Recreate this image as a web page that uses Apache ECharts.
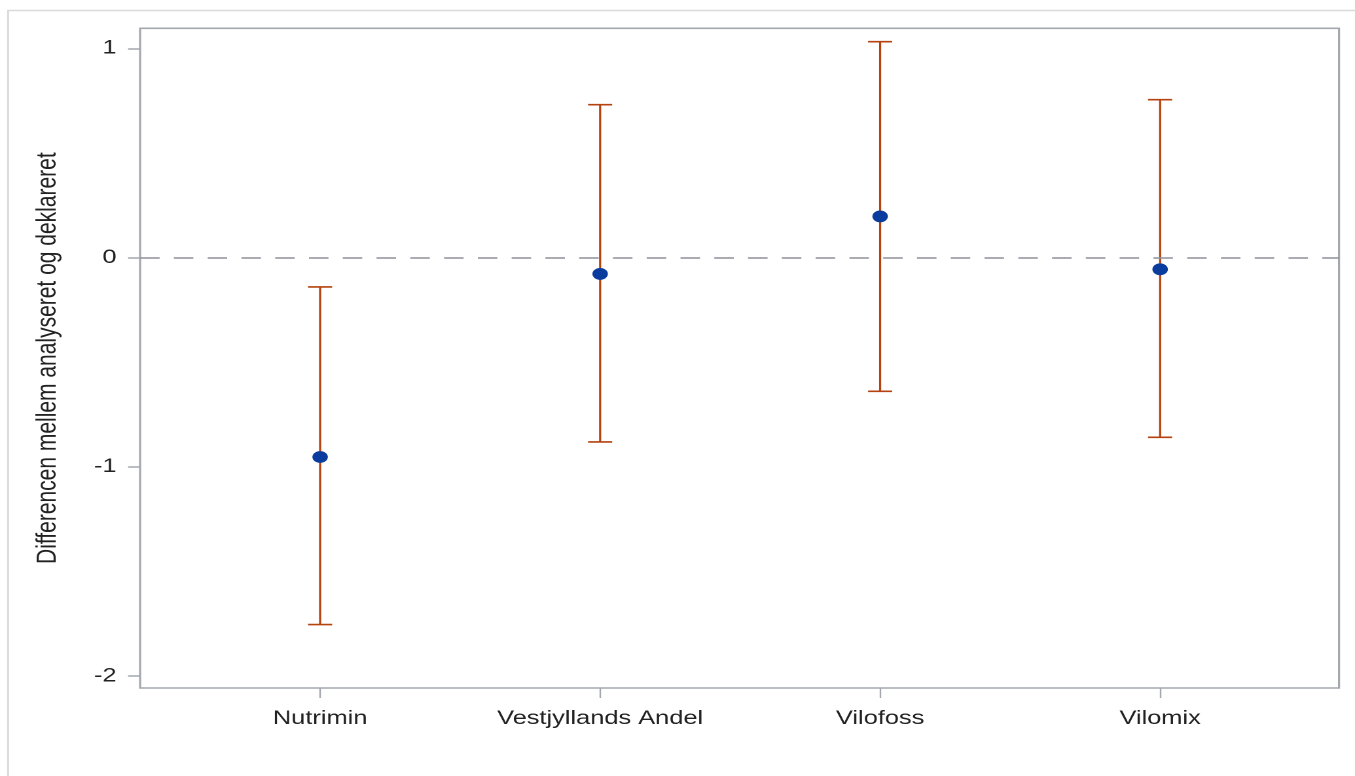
<!DOCTYPE html>
<html>
<head>
<meta charset="utf-8">
<script src="https://cdn.jsdelivr.net/npm/echarts@6/dist/echarts.min.js"></script>
<style>
  html, body { margin: 0; padding: 0; background: #ffffff; overflow: hidden; }
  #wrap { width: 1355px; height: 776px; overflow: hidden; position: relative; }
  #chart { width: 1035px; height: 776px; transform: scaleX(1.30918); transform-origin: 0 0; }
</style>
</head>
<body>
<div id="wrap"><div id="chart"></div></div>
<script>
// ---- data ----
const categories = ['Nutrimin', 'Vestjyllands Andel', 'Vilofoss', 'Vilomix'];
const means = [-0.953, -0.078, 0.197, -0.056];
const lower = [-1.754, -0.881, -0.639, -0.859];
const upper = [-0.140, 0.731, 1.032, 0.755];
const yTicks = [-2, -1, 0, 1];
const yTitle = 'Differencen mellem analyseret og deklareret';

const catIdx = categories.map((c, i) => i);
const pointData = catIdx.map(i => [i, means[i]]);
const barData = catIdx.map(i => [i, lower[i], upper[i]]);

const chart = echarts.init(document.getElementById('chart'), null, { devicePixelRatio: 2, renderer: 'canvas' });
const FONT = '"Liberation Sans", Arial, sans-serif';
const AXIS_GRAY = '#a4a8ae';
const BAR_COLOR = '#b5420f';
const DOT_COLOR = '#0a3c9e';

const option = {
  animation: false,
  backgroundColor: '#ffffff',
  graphic: [{
    type: 'rect',
    shape: { x: 6.2, y: 10.5, width: 3000, height: 3000 },
    style: { fill: 'none', stroke: '#dadada', lineWidth: 1.5 },
    silent: true,
    z: 0
  }],
  grid: {
    left: 107, right: 12.2, top: 28.3, bottom: 88,
    show: true, borderColor: AXIS_GRAY, borderWidth: 1.6, backgroundColor: 'transparent'
  },
  xAxis: {
    type: 'value',
    min: -0.643,
    max: 3.639,
    position: 'bottom',
    axisLine: { show: false, onZero: false },
    splitLine: { show: false },
    axisTick: { show: true, customValues: catIdx, length: 10, lineStyle: { color: AXIS_GRAY, width: 1.2 } },
    axisLabel: {
      customValues: catIdx,
      formatter: v => categories[Math.round(v)] || '',
      color: '#222222', fontFamily: FONT, fontSize: 19.4, margin: 21
    }
  },
  yAxis: {
    type: 'value',
    min: -2.057,
    max: 1.096,
    position: 'left',
    name: yTitle,
    nameLocation: 'middle',
    nameGap: 60,
    nameRotate: 90,
    nameTextStyle: { color: '#222222', fontFamily: FONT, fontSize: 21 },
    axisLine: { show: false, onZero: false },
    splitLine: { show: false },
    axisTick: { show: true, customValues: yTicks, length: 9.2, lineStyle: { color: AXIS_GRAY, width: 1.5 } },
    axisLabel: {
      customValues: yTicks,
      color: '#222222', fontFamily: FONT, fontSize: 19.4, margin: 18,
      padding: [4, 0, 0, 0]
    }
  },
  series: [
    {
      type: 'custom',
      data: barData,
      z: 2,
      silent: true,
      markLine: {
        silent: true,
        symbol: 'none',
        label: { show: false },
        lineStyle: { color: '#8f909c', type: [14.9, 10.9], width: 1.6 },
        data: [{ yAxis: 0 }]
      },
      renderItem: function (params, api) {
        const x = api.value(0);
        const lo = api.coord([x, api.value(1)]);
        const hi = api.coord([x, api.value(2)]);
        const hw = 9.2;
        const style = { stroke: BAR_COLOR, lineWidth: 1.6 };
        return {
          type: 'group',
          children: [
            { type: 'line', shape: { x1: lo[0], y1: lo[1], x2: hi[0], y2: hi[1] }, style: style },
            { type: 'line', shape: { x1: lo[0] - hw, y1: lo[1], x2: lo[0] + hw, y2: lo[1] }, style: style },
            { type: 'line', shape: { x1: hi[0] - hw, y1: hi[1], x2: hi[0] + hw, y2: hi[1] }, style: style }
          ]
        };
      }
    },
    {
      type: 'scatter',
      data: pointData,
      symbol: 'circle',
      symbolSize: 11.8,
      z: 5,
      itemStyle: { color: DOT_COLOR, opacity: 1 }
    }
  ]
};
chart.setOption(option);
</script>
</body>
</html>
